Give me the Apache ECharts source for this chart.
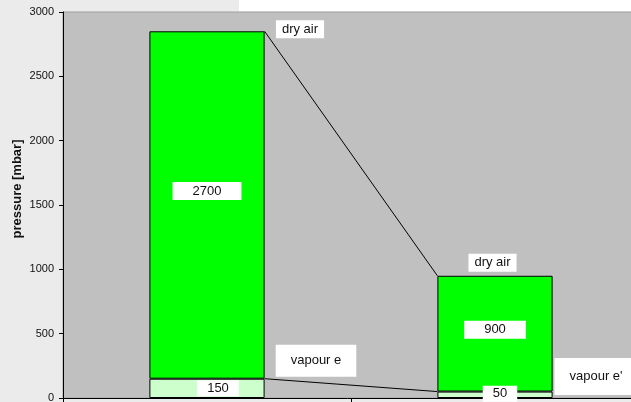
<!DOCTYPE html>
<html>
<head>
<meta charset="utf-8">
<script src="https://cdn.jsdelivr.net/npm/echarts@6/dist/echarts.min.js"></script>
<style>
html,body{margin:0;padding:0;background:#EBEBEB;}
#c{width:631px;height:402px;}
</style>
</head>
<body>
<div id="c"></div>
<script>
// ---- data ----
const categories = ['state 1', 'state 2'];
const vapour = [150, 50];
const dryAir = [2700, 900];
const vapourNames = ['vapour e', "vapour e'"];
const dryNames = ['dry air', 'dry air'];
const yMin = 0, yMax = 3000, yInterval = 500;

// ---- label placement (style) ----
const dryValueOffsets = [[0, -14], [0, -4]];
const vapourValueOffsets = [[11, 0], [5, -1]];
const dryNameOffsets = [[93, -2], [-2.5, -13]];
const dryNamePadding = [[3, 6, 2, 6], [3, 6, 2, 6]];
const vapourNameOffsets = [[109, -18], [101, -15]];
const vapourNamePadding = [[10, 15, 9, 15], [12, 15, 12, 15]];

const font = "'Liberation Sans', Arial, sans-serif";
const textCol = '#111';

const tops = vapour.map((v, i) => v + dryAir[i]);
const connectors = [];
for (let i = 0; i < categories.length - 1; i++) {
  connectors.push([i, i + 1, vapour[i], vapour[i + 1]]);
  connectors.push([i, i + 1, tops[i], tops[i + 1]]);
}

const chart = echarts.init(document.getElementById('c'), null, {renderer: 'canvas'});
const barFrac = 0.4;

const option = {
  animation: false,
  backgroundColor: '#EBEBEB',
  textStyle: {fontFamily: font},
  graphic: [{
    type: 'rect', left: 239, top: 0, z: -10,
    shape: {width: 400, height: 11.5},
    style: {fill: '#FFFFFF'}
  }],
  grid: {
    left: 63, top: 12, width: 576, height: 386,
    outerBoundsMode: 'none', containLabel: false,
    show: true, backgroundColor: '#C0C0C0', borderColor: '#A0A0A0', borderWidth: 1
  },
  xAxis: {
    type: 'category', data: categories,
    axisLine: {lineStyle: {color: '#000', width: 1}},
    axisTick: {show: true, alignWithLabel: false, length: 4, lineStyle: {color: '#000'}},
    axisLabel: {show: false},
    splitLine: {show: false}
  },
  yAxis: {
    type: 'value', min: yMin, max: yMax, interval: yInterval,
    name: 'pressure [mbar]', nameLocation: 'middle', nameGap: 39, nameMoveOverlap: false,
    nameTextStyle: {fontFamily: font, fontSize: 13, fontWeight: 'bold', color: textCol, padding: [0, 0, 0, 32]},
    axisLine: {show: true, lineStyle: {color: '#000', width: 1}},
    axisTick: {show: true, length: 4, lineStyle: {color: '#000'}},
    axisLabel: {fontFamily: font, fontSize: 11, color: textCol, margin: 9, formatter: v => String(v)},
    splitLine: {show: false}
  },
  series: [
    {
      name: 'vapour', type: 'bar', stack: 'p', barWidth: (barFrac * 100) + '%',
      itemStyle: {color: '#CCFFCC', borderColor: '#000', borderWidth: 1},
      label: {show: true, position: 'inside', backgroundColor: '#fff', color: textCol,
        fontFamily: font, fontSize: 13, padding: [2, 10, 1, 10]},
      data: vapour.map((v, i) => ({value: v, label: {offset: vapourValueOffsets[i]}})),
      markPoint: {
        symbol: 'rect', symbolSize: 1, itemStyle: {color: 'rgba(0,0,0,0)'},
        label: {show: true, position: 'inside', backgroundColor: '#fff', color: textCol,
          fontFamily: font, fontSize: 13, formatter: p => p.name},
        data: vapour.map((v, i) => ({
          name: vapourNames[i], coord: [categories[i], v],
          label: {offset: vapourNameOffsets[i], padding: vapourNamePadding[i]}
        }))
      }
    },
    {
      name: 'dry air', type: 'bar', stack: 'p', barWidth: (barFrac * 100) + '%',
      itemStyle: {color: '#00FF00', borderColor: '#000', borderWidth: 1},
      label: {show: true, position: 'inside', backgroundColor: '#fff', color: textCol,
        fontFamily: font, fontSize: 13, padding: [3, 20, 2, 20]},
      data: dryAir.map((v, i) => ({value: v, label: {offset: dryValueOffsets[i]}})),
      markPoint: {
        symbol: 'rect', symbolSize: 1, itemStyle: {color: 'rgba(0,0,0,0)'},
        label: {show: true, position: 'inside', backgroundColor: '#fff', color: textCol,
          fontFamily: font, fontSize: 13, formatter: p => p.name},
        data: dryAir.map((v, i) => ({
          name: dryNames[i], coord: [categories[i], tops[i]],
          label: {offset: dryNameOffsets[i], padding: dryNamePadding[i]}
        }))
      }
    },
    {
      name: 'connectors', type: 'custom', z: 3,
      encode: {x: [0, 1], y: [2, 3]},
      data: connectors,
      renderItem: function (params, api) {
        const p0 = api.coord([api.value(0), api.value(2)]);
        const p1 = api.coord([api.value(1), api.value(3)]);
        const half = api.size([1, 0])[0] * barFrac / 2;
        return {
          type: 'line',
          shape: {x1: p0[0] + half, y1: p0[1], x2: p1[0] - half, y2: p1[1]},
          style: {stroke: '#000', lineWidth: 1}
        };
      }
    }
  ]
};
chart.setOption(option);
</script>
</body>
</html>
